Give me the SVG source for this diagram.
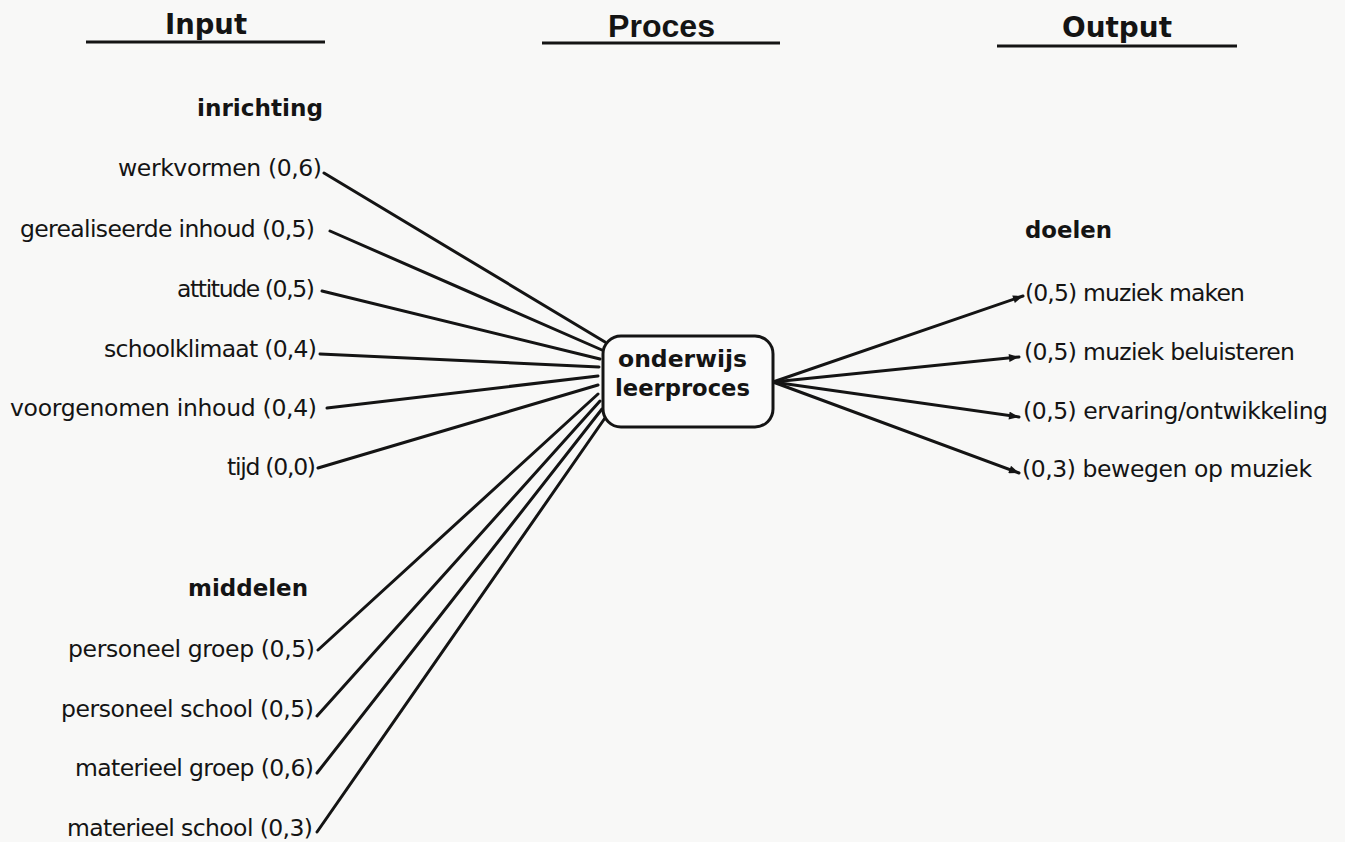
<svg xmlns="http://www.w3.org/2000/svg" width="1345" height="842" viewBox="0 0 1345 842">
  <style>
    .hdr { font-family: "DejaVu Sans", "Liberation Sans", sans-serif; font-weight: bold; fill: #141414; }
    .hdr2 { font-family: "Liberation Sans", Arial, sans-serif; font-weight: bold; fill: #141414; }
    .grp { font-family: "DejaVu Sans", "Liberation Sans", sans-serif; font-weight: bold; font-size: 23px; fill: #141414; }
    .lbl { font-family: "DejaVu Sans", "Liberation Sans", sans-serif; font-size: 23.5px; fill: #141414; }
    .uline { stroke: #141414; stroke-width: 2.8; fill: none; }
    .conn line { stroke: #141414; stroke-width: 3; fill: none; stroke-linecap: round; }
    .box { fill: #fafafa; stroke: #141414; stroke-width: 3; }
  </style>
  <defs>
    <marker id="arr" viewBox="0 0 10 8" refX="10" refY="4" markerWidth="11" markerHeight="8" markerUnits="userSpaceOnUse" orient="auto">
      <path d="M0,0 L10,4 L0,8 Z" fill="#141414"/>
    </marker>
  </defs>
  <rect width="1345" height="842" fill="#f8f8f7"/>

  <g id="headers">
    <text class="hdr" x="165" y="34" font-size="28" textLength="82" lengthAdjust="spacingAndGlyphs">Input</text>
    <line class="uline" x1="86" y1="42" x2="325" y2="42"/>
    <text class="hdr2" x="608" y="37" font-size="31" textLength="107" lengthAdjust="spacingAndGlyphs">Proces</text>
    <line class="uline" x1="542" y1="43" x2="780" y2="43"/>
    <text class="hdr" x="1062" y="37" font-size="29" textLength="110" lengthAdjust="spacingAndGlyphs">Output</text>
    <line class="uline" x1="997" y1="46" x2="1237" y2="46"/>
  </g>

  <g id="connectors" class="conn">
    <line x1="324" y1="173" x2="605" y2="342"/>
    <line x1="330" y1="231" x2="602" y2="350"/>
    <line x1="322" y1="291" x2="600" y2="359"/>
    <line x1="320" y1="354" x2="599" y2="367"/>
    <line x1="327" y1="408" x2="598" y2="376"/>
    <line x1="318" y1="468" x2="598" y2="385"/>
    <line x1="318" y1="650" x2="598" y2="394"/>
    <line x1="317" y1="716" x2="600" y2="401"/>
    <line x1="317" y1="773" x2="602" y2="409"/>
    <line x1="317" y1="832" x2="605" y2="418"/>
    <line x1="773" y1="382" x2="1023" y2="296" marker-end="url(#arr)"/>
    <line x1="773" y1="382" x2="1019" y2="357" marker-end="url(#arr)"/>
    <line x1="773" y1="382" x2="1019" y2="417" marker-end="url(#arr)"/>
    <line x1="773" y1="382" x2="1019" y2="473" marker-end="url(#arr)"/>
  </g>

  <g id="proces">
    <rect class="box" x="603" y="336" width="170" height="91" rx="18" ry="18"/>
    <text class="grp" x="618" y="367" font-size="24" textLength="129" lengthAdjust="spacingAndGlyphs">onderwijs</text>
    <text class="grp" x="615" y="396" font-size="24" textLength="135" lengthAdjust="spacingAndGlyphs">leerproces</text>
  </g>

  <g id="inrichting">
    <text class="grp" x="197" y="116" textLength="126" lengthAdjust="spacingAndGlyphs">inrichting</text>
  </g>
  <g id="werkvormen"><text class="lbl" x="118" y="176" textLength="204">werkvormen (0,6)</text></g>
  <g id="gerealiseerde-inhoud"><text class="lbl" x="20" y="237" textLength="295">gerealiseerde inhoud (0,5)</text></g>
  <g id="attitude"><text class="lbl" x="177" y="297" textLength="138">attitude (0,5)</text></g>
  <g id="schoolklimaat"><text class="lbl" x="104" y="357" textLength="213">schoolklimaat (0,4)</text></g>
  <g id="voorgenomen-inhoud"><text class="lbl" x="10" y="416" textLength="307">voorgenomen inhoud (0,4)</text></g>
  <g id="tijd"><text class="lbl" x="227" y="475" textLength="89">tijd (0,0)</text></g>

  <g id="middelen">
    <text class="grp" x="188" y="596" textLength="120" lengthAdjust="spacingAndGlyphs">middelen</text>
  </g>
  <g id="personeel-groep"><text class="lbl" x="68" y="657" textLength="247">personeel groep (0,5)</text></g>
  <g id="personeel-school"><text class="lbl" x="61" y="717" textLength="253">personeel school (0,5)</text></g>
  <g id="materieel-groep"><text class="lbl" x="75" y="776" textLength="239">materieel groep (0,6)</text></g>
  <g id="materieel-school"><text class="lbl" x="67" y="836" textLength="246">materieel school (0,3)</text></g>

  <g id="doelen">
    <text class="grp" x="1025" y="238" textLength="87" lengthAdjust="spacingAndGlyphs">doelen</text>
  </g>
  <g id="muziek-maken"><text class="lbl" x="1025" y="301" textLength="220">(0,5) muziek maken</text></g>
  <g id="muziek-beluisteren"><text class="lbl" x="1024" y="360" textLength="271">(0,5) muziek beluisteren</text></g>
  <g id="ervaring-ontwikkeling"><text class="lbl" x="1023" y="419" textLength="305">(0,5) ervaring/ontwikkeling</text></g>
  <g id="bewegen-op-muziek"><text class="lbl" x="1022" y="477" textLength="290">(0,3) bewegen op muziek</text></g>
</svg>
